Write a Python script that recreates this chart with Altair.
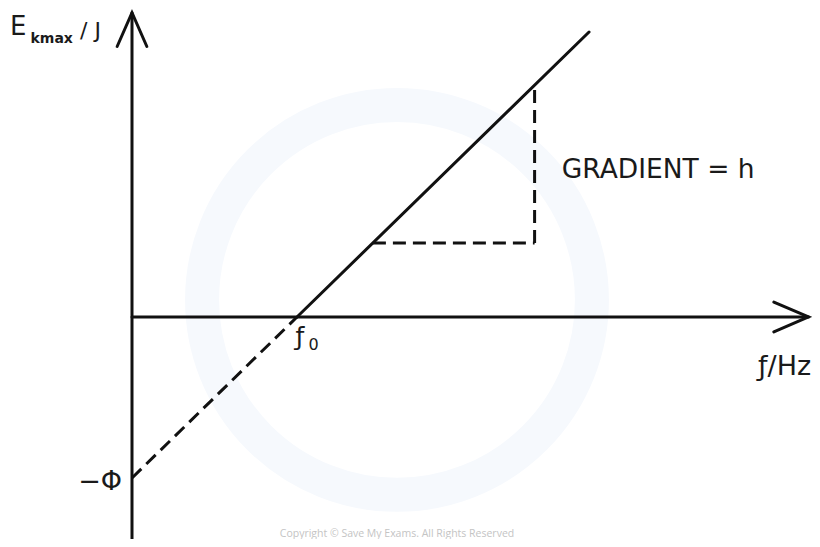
import altair as alt
import pandas as pd

# ---- data (conceptual units: f in units of f0, E in units of phi) ----
# solid line: E = h (f - f0)
solid_f = [1.0, 2.77]
solid_E = [0.0, 1.77]
# dashed extrapolation back to -phi
dash_f = [0.0, 1.0]
dash_E = [-1.0, 0.0]
# gradient triangle (dashed)
tri_h_f = [1.46, 2.44]
tri_h_E = [0.46, 0.46]
tri_v_f = [2.44, 2.44]
tri_v_E = [0.46, 1.44]
# axes
yaxis_f = [0.0, 0.0]
yaxis_E = [-1.45, 1.89]
xaxis_f = [0.0, 4.10]
xaxis_E = [0.0, 0.0]
# arrow heads
yarrow_f = [-0.09, 0.0, 0.09]
yarrow_E = [1.68, 1.89, 1.68]
xarrow_f = [3.89, 4.10, 3.89]
xarrow_E = [0.093, 0.0, -0.093]

# labels
lab_text = ["E", "kmax", "/ J", "−Φ", "ƒ", "0", "ƒ/Hz", "GRADIENT = h"]
lab_f = [-0.74, -0.615, -0.315, -0.06, 1.018, 1.07, 3.955, 2.605]
lab_E = [1.752, 1.702, 1.735, -1.025, -0.175, -0.205, -0.31, 0.863]
lab_size = [26, 14, 22, 27, 25, 16, 27, 26.5]
lab_align = ["left", "left", "left", "right", "center", "left", "center", "left"]
lab_weight = ["normal", "bold", "normal", "normal", "normal", "normal", "normal", "normal"]
lab_baseline = ["alphabetic", "alphabetic", "alphabetic", "middle", "alphabetic",
                "alphabetic", "middle", "alphabetic"]

copyright_text = ["Copyright © Save My Exams. All Rights Reserved"]
copyright_f = [1.606]
copyright_E = [-1.365]

wm_f = [1.606]
wm_E = [0.106]

F_DOMAIN = [-0.7515, 4.1212]
E_DOMAIN = [-1.3789, 1.919]

xs = alt.Scale(domain=F_DOMAIN, nice=False, zero=False)
ys = alt.Scale(domain=E_DOMAIN, nice=False, zero=False)


def seg_df(fs, es, name):
    return pd.DataFrame({"f": fs, "E": es, "seg": name, "order": list(range(len(fs)))})


solid_df = pd.concat([
    seg_df(solid_f, solid_E, "solid"),
    seg_df(yaxis_f, yaxis_E, "yaxis"),
    seg_df(xaxis_f, xaxis_E, "xaxis"),
    seg_df(yarrow_f, yarrow_E, "yarrow"),
    seg_df(xarrow_f, xarrow_E, "xarrow"),
])
dashed_df = pd.concat([
    seg_df(dash_f, dash_E, "dash"),
    seg_df(tri_h_f, tri_h_E, "trih"),
    seg_df(tri_v_f, tri_v_E, "triv"),
])

enc_line = dict(
    x=alt.X("f:Q", scale=xs, axis=None),
    y=alt.Y("E:Q", scale=ys, axis=None),
    detail="seg:N",
    order="order:Q",
)

watermark = alt.Chart(pd.DataFrame({"f": wm_f, "E": wm_E})).mark_point(
    shape="circle", size=152000, filled=False, stroke="#f6f9fd", strokeWidth=34, opacity=1
).encode(x=alt.X("f:Q", scale=xs, axis=None), y=alt.Y("E:Q", scale=ys, axis=None))

solid = alt.Chart(solid_df).mark_line(
    color="#111111", strokeWidth=3, strokeCap="round", strokeJoin="miter"
).encode(**enc_line)

dashed = alt.Chart(dashed_df).mark_line(
    color="#111111", strokeWidth=3, strokeDash=[13, 7]
).encode(**enc_line)

lab_df = pd.DataFrame({"text": lab_text, "f": lab_f, "E": lab_E})

text_layers = []
for i in range(len(lab_text)):
    sub = lab_df.iloc[[i]]
    text_layers.append(
        alt.Chart(sub).mark_text(
            font="DejaVu Sans", fontSize=lab_size[i], align=lab_align[i],
            baseline=lab_baseline[i], fontWeight=lab_weight[i], color="#1a1a1a"
        ).encode(
            x=alt.X("f:Q", scale=xs, axis=None),
            y=alt.Y("E:Q", scale=ys, axis=None),
            text="text:N",
        )
    )

copyright = alt.Chart(pd.DataFrame({"text": copyright_text, "f": copyright_f, "E": copyright_E})).mark_text(
    font="Open Sans", fontSize=10.5, color="#c4c4c4", align="center", baseline="alphabetic"
).encode(
    x=alt.X("f:Q", scale=xs, axis=None),
    y=alt.Y("E:Q", scale=ys, axis=None),
    text="text:N",
)

chart = alt.layer(watermark, solid, dashed, *text_layers, copyright).properties(
    width=804, height=531, padding=0,
    autosize=alt.AutoSizeParams(type="none"),
    background="white",
).configure_view(stroke=None)

chart.save("out.html", embed_options={"renderer": "svg", "actions": False})
